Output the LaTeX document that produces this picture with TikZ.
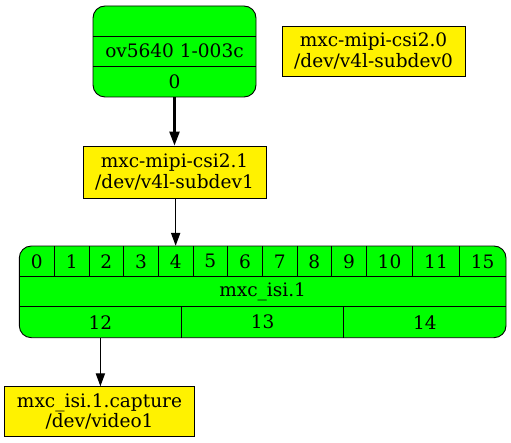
\documentclass[tikz,border=0pt]{standalone}
\usepackage{fontspec}
\setmainfont{DejaVu Serif}
\usetikzlibrary{arrows.meta}
\begin{document}
\begin{tikzpicture}[x=1bp, y=-1bp, font=\fontsize{18.6}{20.5}\selectfont,
    entity/.style={draw, fill=yellow, align=center, inner sep=0pt, line width=0.9bp},
    record/.style={draw, fill=green, rounded corners=12bp, line width=0.9bp},
    field/.style={inner sep=0pt, anchor=center},
    link/.style={-{Triangle[length=13bp, width=9.3bp]}, line width=1.1bp}]
    \useasboundingbox (0,0) rectangle (511,443);

    % sensor record
    \draw[record] (93,6) rectangle (256,97);
    \draw[line width=0.9bp] (93,36) -- (256,36) (93,66) -- (256,66);
    \node[field] (ovname) at (174.5,51) {ov5640 1-003c};
    \node[field, minimum width=163bp, minimum height=31bp] (ov0) at (174.5,81.5) {0};

    % subdevices
    \node[entity, minimum width=183bp, minimum height=50bp] (csi0) at (373.5,51) {mxc-mipi-csi2.0\\/dev/v4l-subdev0};
    \node[entity, minimum width=183bp, minimum height=52bp] (csi1) at (174.5,172) {mxc-mipi-csi2.1\\/dev/v4l-subdev1};

    % isi record
    \draw[record] (19.3,246) rectangle (506,337.7);
    \draw[line width=0.9bp] (19.3,276.7) -- (506,276.7) (19.3,306.7) -- (506,306.7);
    \foreach \xd in {54.3,89,123.7,158.3,193,227.7,262.3,297,331.7,366.3,412.7,459.3}
        \draw[line width=0.9bp] (\xd,246) -- (\xd,276.7);
    \draw[line width=0.9bp] (181.5,306.7) -- (181.5,337.7) (343.7,306.7) -- (343.7,337.7);
    \foreach \p/\a/\b in {0/19.3/54.3, 1/54.3/89, 2/89/123.7, 3/123.7/158.3, 4/158.3/193,
        5/193/227.7, 6/227.7/262.3, 7/262.3/297, 8/297/331.7, 9/331.7/366.3,
        10/366.3/412.7, 11/412.7/459.3, 15/459.3/506}
        \node[field, minimum width={(\b-\a)*1bp}, minimum height=30.7bp] (isi\p) at ({(\a+\b)/2},261.3) {\p};
    \node[field] (isiname) at (262.6,291.7) {mxc\_isi.1};
    \foreach \p/\xc in {12/100.4, 13/262.6, 14/424.9}
        \node[field, minimum width=162.2bp, minimum height=31bp] (isi\p) at (\xc,322.2) {\p};

    % video node
    \node[entity, minimum width=189.5bp, minimum height=50bp] (cap) at (99.5,411.7) {mxc\_isi.1.capture\\/dev/video1};

    \draw[link, line width=2.4bp, -{Triangle[length=14bp, width=10bp]}] (ov0) -- (csi1);
    \draw[link] (csi1.south -| isi4) -- (isi4);
    \draw[link] (isi12) -- (isi12 |- cap.north);
\end{tikzpicture}
\end{document}
